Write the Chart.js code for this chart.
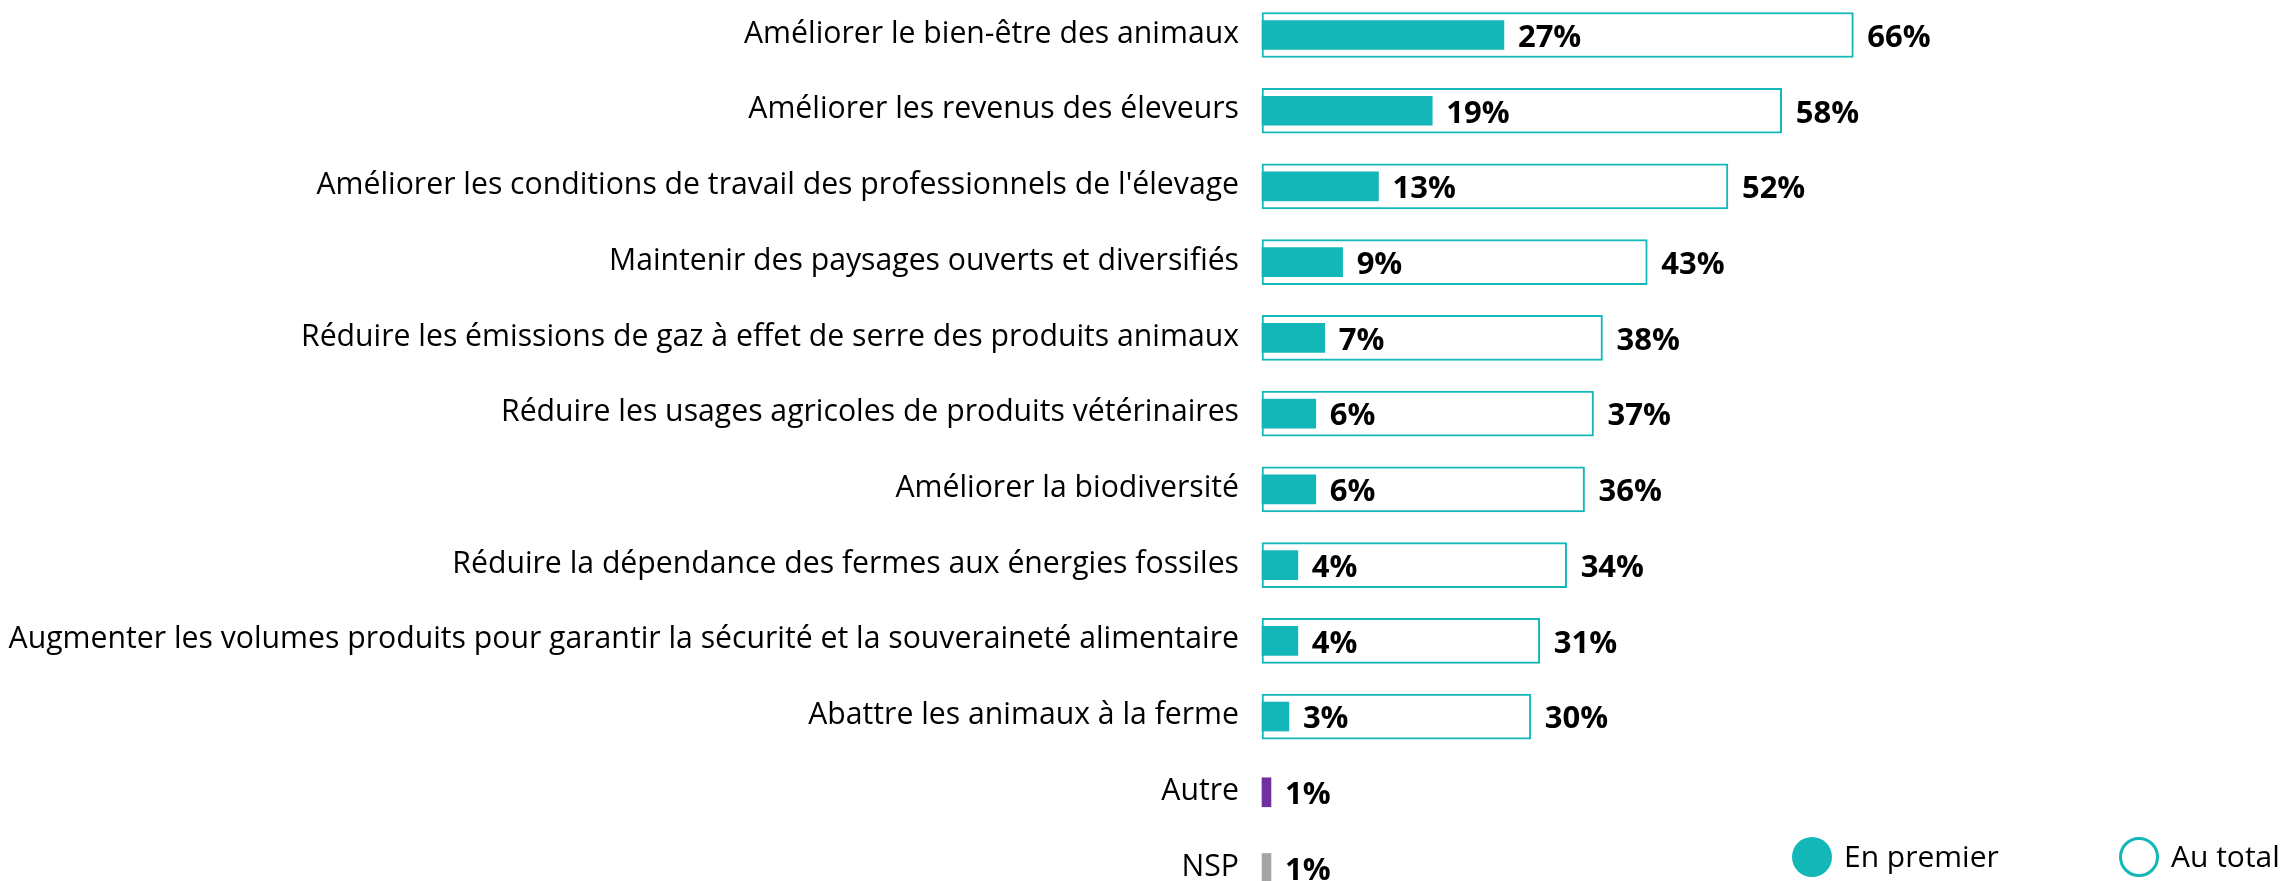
<!DOCTYPE html>
<html lang="fr">
<head>
<meta charset="utf-8">
<script src="https://cdn.jsdelivr.net/npm/chart.js@4"></script>
<style>
  html, body { margin: 0; padding: 0; background: #fff; }
  #wrap { width: 2285px; height: 881px; position: relative; }
</style>
</head>
<body>
<div id="wrap"><canvas id="chart"></canvas></div>
<script>
const categories = [
  "Améliorer le bien-être des animaux",
  "Améliorer les revenus des éleveurs",
  "Améliorer les conditions de travail des professionnels de l'élevage",
  "Maintenir des paysages ouverts et diversifiés",
  "Réduire les émissions de gaz à effet de serre des produits animaux",
  "Réduire les usages agricoles de produits vétérinaires",
  "Améliorer la biodiversité",
  "Réduire la dépendance des fermes aux énergies fossiles",
  "Augmenter les volumes produits pour garantir la sécurité et la souveraineté alimentaire",
  "Abattre les animaux à la ferme",
  "Autre",
  "NSP",
];
const enPremier = [27, 19, 13, 9, 7, 6, 6, 4, 4, 3, 1, 1];
const auTotal = [66, 58, 52, 43, 38, 37, 36, 34, 31, 30, null, null];
const seriesNames = ["En premier", "Au total"];

const TEAL = "#14b7b7";
const firstColors = categories.map((c) =>
  c === "Autre" ? "#7030a0" : c === "NSP" ? "#a6a6a6" : TEAL
);

const FONT = '"Open Sans", "Noto Sans", sans-serif';

// values written after the end of each bar
const valueLabels = {
  id: "valueLabels",
  afterDatasetsDraw(chart) {
    const ctx = chart.ctx;
    ctx.save();
    ctx.font = `bold 31px ${FONT}`;
    ctx.fillStyle = "#000";
    ctx.textAlign = "left";
    ctx.textBaseline = "middle";
    chart.data.datasets.forEach((ds, di) => {
      const meta = chart.getDatasetMeta(di);
      meta.data.forEach((bar, i) => {
        const v = ds.data[i];
        if (v == null) return;
        ctx.fillText(v + "%", bar.x + 14, bar.y + 3);
      });
    });
    ctx.restore();
  },
};

// legend in the bottom right corner
const cornerLegend = {
  id: "cornerLegend",
  afterDraw(chart) {
    const ctx = chart.ctx;
    const items = [
      { x: 1812, filled: true, text: seriesNames[0] },
      { x: 2139, filled: false, text: seriesNames[1] },
    ];
    const y = 857;
    ctx.save();
    ctx.font = `30px ${FONT}`;
    ctx.textBaseline = "middle";
    ctx.textAlign = "left";
    items.forEach((it) => {
      ctx.beginPath();
      ctx.arc(it.x, y, it.filled ? 20 : 18.5, 0, Math.PI * 2);
      if (it.filled) {
        ctx.fillStyle = TEAL;
        ctx.fill();
      } else {
        ctx.lineWidth = 3;
        ctx.strokeStyle = TEAL;
        ctx.stroke();
      }
      ctx.fillStyle = "#000";
      ctx.fillText(it.text, it.x + 32, y + 1);
    });
    ctx.restore();
  },
};

new Chart(document.getElementById("chart"), {
  type: "bar",
  data: {
    labels: categories,
    datasets: [
      {
        label: seriesNames[0],
        data: enPremier,
        backgroundColor: firstColors,
        borderWidth: 0,
        barThickness: 29,
        clip: false,
      },
      {
        label: seriesNames[1],
        data: auTotal,
        backgroundColor: "#ffffff",
        borderColor: TEAL,
        borderWidth: 2,
        borderSkipped: false,
        barThickness: 45,
        clip: false,
      },
    ],
  },
  options: {
    indexAxis: "y",
    responsive: true,
    maintainAspectRatio: false,
    animation: false,
    layout: { padding: { left: 0, right: 127, top: 35, bottom: 13 } },
    datasets: { bar: { grouped: false } },
    plugins: {
      legend: { display: false },
      tooltip: { enabled: false },
    },
    scales: {
      x: {
        display: false,
        min: 0,
        max: 100,
      },
      y: {
        offset: false,
        grid: { display: false, drawTicks: false },
        border: { display: false },
        ticks: {
          autoSkip: false,
          padding: 23,
          labelOffset: -1,
          color: "#000",
          font: { family: FONT, size: 30.2 },
        },
        afterFit(scale) {
          scale.width = 1262;
          scale.paddingTop = 0;
          scale.paddingBottom = 0;
        },
      },
    },
  },
  plugins: [valueLabels, cornerLegend],
});
</script>
</body>
</html>
